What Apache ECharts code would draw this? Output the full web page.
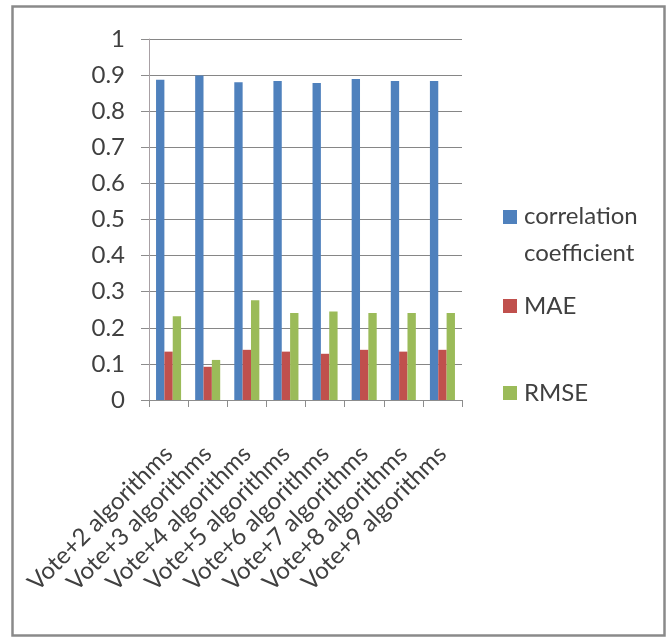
<!DOCTYPE html>
<html>
<head>
<meta charset="utf-8">
<script src="https://cdn.jsdelivr.net/npm/echarts@6/dist/echarts.min.js"></script>
<style>
  html, body { margin: 0; padding: 0; background: #fff; }
  #chart { width: 669px; height: 637px; }
</style>
</head>
<body>
<div id="chart"></div>
<script>
// Ensemble results: vote over 2..9 base algorithms
const categories = [
  'Vote+2 algorithms', 'Vote+3 algorithms', 'Vote+4 algorithms', 'Vote+5 algorithms',
  'Vote+6 algorithms', 'Vote+7 algorithms', 'Vote+8 algorithms', 'Vote+9 algorithms'
];
const correlation = [0.887, 0.899, 0.880, 0.884, 0.878, 0.889, 0.884, 0.884];
const mae = [0.134, 0.092, 0.139, 0.134, 0.128, 0.139, 0.134, 0.139];
const rmse = [0.232, 0.111, 0.276, 0.241, 0.245, 0.241, 0.241, 0.241];
const yTicks = [0, 0.1, 0.2, 0.3, 0.4, 0.5, 0.6, 0.7, 0.8, 0.9, 1];

const FONT = 'Lato';
const TEXT = '#404040';
const FS = 24;

const chart = echarts.init(document.getElementById('chart'), null, { renderer: 'canvas' });

function legendFor(name, top, extra) {
  return Object.assign({
    data: [name],
    orient: 'vertical',
    left: 503,
    top: top,
    padding: 0,
    itemWidth: 14,
    itemHeight: 14,
    icon: 'rect',
    selectedMode: false,
    textStyle: { fontFamily: FONT, fontSize: FS, color: TEXT, padding: [0, 0, 0, 2] }
  }, extra || {});
}

chart.setOption({
  animation: false,
  backgroundColor: '#ffffff',
  graphic: [{
    type: 'rect',
    shape: { x: 12.5, y: 6.5, width: 652, height: 629 },
    style: { fill: 'none', stroke: '#8a8a8a', lineWidth: 2.5 },
    silent: true
  }],
  legend: [
    // two-line entry: uneven line heights keep the marker level with the first line
    legendFor('correlation coefficient', 204, {
      formatter: () => '{a|correlation}\n{b|coefficient}',
      textStyle: {
        fontFamily: FONT, fontSize: FS, color: TEXT, padding: [0, 0, 0, 2],
        rich: {
          a: { fontFamily: FONT, fontSize: FS, color: TEXT, lineHeight: 72 },
          b: { fontFamily: FONT, fontSize: FS, color: TEXT, lineHeight: 2 }
        }
      }
    }),
    legendFor('MAE', 294),
    legendFor('RMSE', 381)
  ],
  grid: { left: 149, top: 39, width: 313, height: 361, containLabel: false },
  xAxis: {
    type: 'category',
    data: categories,
    axisLine: { lineStyle: { color: '#8c8c8c', width: 1 } },
    axisTick: { show: true, length: 7, lineStyle: { color: '#8c8c8c' } },
    axisLabel: {
      rotate: 45,
      interval: 0,
      margin: 50,
      fontFamily: FONT,
      fontSize: FS,
      color: TEXT
    }
  },
  yAxis: {
    type: 'value',
    min: 0,
    max: 1,
    interval: 0.1,
    axisLine: { show: true, lineStyle: { color: '#a8a0a4', width: 1 } },
    axisTick: { show: true, inside: false, length: 8, lineStyle: { color: '#8c8c8c' } },
    splitLine: { lineStyle: { color: '#868686', width: 1 } },
    axisLabel: {
      margin: 24,
      fontFamily: FONT,
      fontSize: FS,
      color: TEXT,
      formatter: v => {
        const t = yTicks.find(x => Math.abs(x - v) < 1e-9);
        return t === undefined ? '' : String(t);
      }
    }
  },
  series: [
    { name: 'correlation coefficient', type: 'bar', data: correlation,
      itemStyle: { color: '#4f81bd' }, barGap: '0%', barCategoryGap: '36%' },
    { name: 'MAE', type: 'bar', data: mae,
      itemStyle: { color: '#c0504d' }, barGap: '0%', barCategoryGap: '36%' },
    { name: 'RMSE', type: 'bar', data: rmse,
      itemStyle: { color: '#9bbb59' }, barGap: '0%', barCategoryGap: '36%' }
  ]
});
</script>
</body>
</html>
